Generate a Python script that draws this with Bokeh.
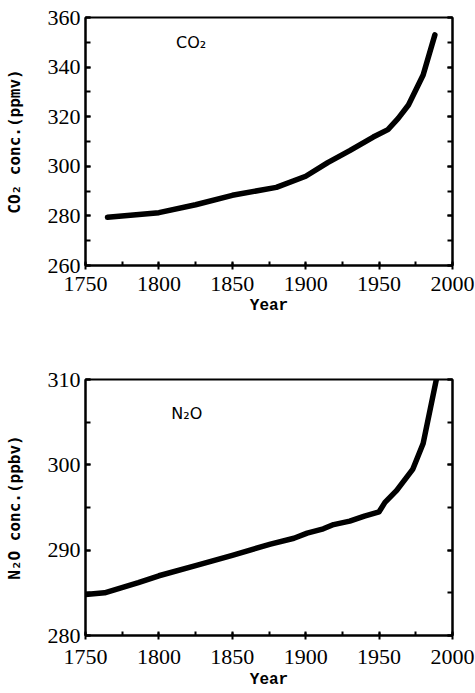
from bokeh.plotting import figure
from bokeh.layouts import column
from bokeh.models import Range1d, LinearAxis, SingleIntervalTicker
from bokeh.core.properties import value
from bokeh.embed import file_html
from bokeh.resources import INLINE

# ---- data ----
years_co2 = [1765, 1800, 1825, 1850, 1880, 1900, 1915, 1930, 1946, 1956, 1963, 1970, 1980, 1988]
co2 = [279.5, 281.3, 284.5, 288.3, 291.5, 296.0, 301.5, 306.3, 311.8, 314.8, 319.3, 324.7, 336.8, 353.0]

years_n2o = [1750, 1763, 1786, 1800, 1825, 1850, 1876, 1892, 1901, 1912, 1919, 1930, 1940,
             1950, 1954, 1962, 1973, 1980, 1989]
n2o = [284.8, 285.0, 286.2, 287.0, 288.2, 289.4, 290.7, 291.4, 292.0, 292.5, 293.0, 293.4, 294.0,
       294.5, 295.6, 297.0, 299.5, 302.5, 310.0]

x_limits = (1750, 2000)
co2_limits = (260, 360)
n2o_limits = (280, 310)

co2_label_pos = (1822, 350)
n2o_label_pos = (1819, 306)

TICK_FONT = "Liberation Serif"
XLABEL_FONT = "Liberation Mono"
YLABEL_FONT = "DejaVu Sans Mono"


def make_panel(xs, ys, ylim, ytick, ylabel, tag, tag_pos, height, top, bottom,
               label_standoff, title_standoff):
    p = figure(width=475, height=height, output_backend="svg", toolbar_location=None,
               x_range=Range1d(*x_limits), y_range=Range1d(*ylim),
               min_border_left=85, min_border_right=23,
               min_border_top=top, min_border_bottom=bottom)
    p.xgrid.visible = False
    p.ygrid.visible = False
    p.background_fill_color = "white"
    p.border_fill_color = "white"
    p.outline_line_color = "black"
    p.outline_line_width = 2

    p.line(xs, ys, line_color="black", line_width=5.5, line_join="round", line_cap="round")
    p.text(x=[tag_pos[0]], y=[tag_pos[1]], text=[tag], text_font=value("DejaVu Sans"),
           text_font_size="16px", text_align="center", text_baseline="middle",
           text_color="black")

    xax = p.xaxis[0]
    xax.ticker = SingleIntervalTicker(interval=50, num_minor_ticks=2)
    xax.axis_label = "Year"
    xax.axis_label_text_font = XLABEL_FONT
    xax.axis_label_text_font_style = "bold"
    xax.axis_label_text_font_size = "16px"
    xax.axis_label_standoff = title_standoff
    xax.major_label_text_font = TICK_FONT
    xax.major_label_text_font_size = "22px"
    xax.major_label_standoff = label_standoff

    yax = p.yaxis[0]
    yax.ticker = SingleIntervalTicker(interval=ytick, num_minor_ticks=2)
    yax.axis_label = ylabel
    yax.axis_label_text_font = YLABEL_FONT
    yax.axis_label_text_font_style = "bold"
    yax.axis_label_text_font_size = "16px"
    yax.axis_label_standoff = 21
    yax.major_label_text_font = TICK_FONT
    yax.major_label_text_font_size = "22px"
    yax.major_label_standoff = 5

    rax = LinearAxis(ticker=SingleIntervalTicker(interval=ytick, num_minor_ticks=2))
    rax.major_label_text_alpha = 0
    rax.major_label_text_font_size = "1px"
    p.add_layout(rax, "right")

    for ax in (xax, yax, rax):
        ax.axis_line_color = "black"
        ax.axis_line_width = 2
        ax.major_tick_line_color = "black"
        ax.major_tick_line_width = 2
        ax.minor_tick_line_color = "black"
        ax.minor_tick_line_width = 2
        ax.major_label_text_color = "black"
        ax.axis_label_text_color = "black"
    for ax in (yax, rax):
        ax.major_tick_in = 5
        ax.major_tick_out = 0
        ax.minor_tick_in = 5
        ax.minor_tick_out = 0
    xax.major_tick_in = 3
    xax.major_tick_out = 4
    xax.minor_tick_in = 4
    xax.minor_tick_out = 0
    return p


p1 = make_panel(years_co2, co2, co2_limits, 20, "CO₂ conc.(ppmv)", "CO₂", co2_label_pos,
                height=343, top=17, bottom=78, label_standoff=7, title_standoff=3)
p2 = make_panel(years_n2o, n2o, n2o_limits, 10, "N₂O conc.(ppbv)", "N₂O", n2o_label_pos,
                height=350, top=36, bottom=58, label_standoff=10, title_standoff=4)

layout = column(p1, p2, spacing=0)
open("out.html", "w").write(file_html(layout, INLINE))
